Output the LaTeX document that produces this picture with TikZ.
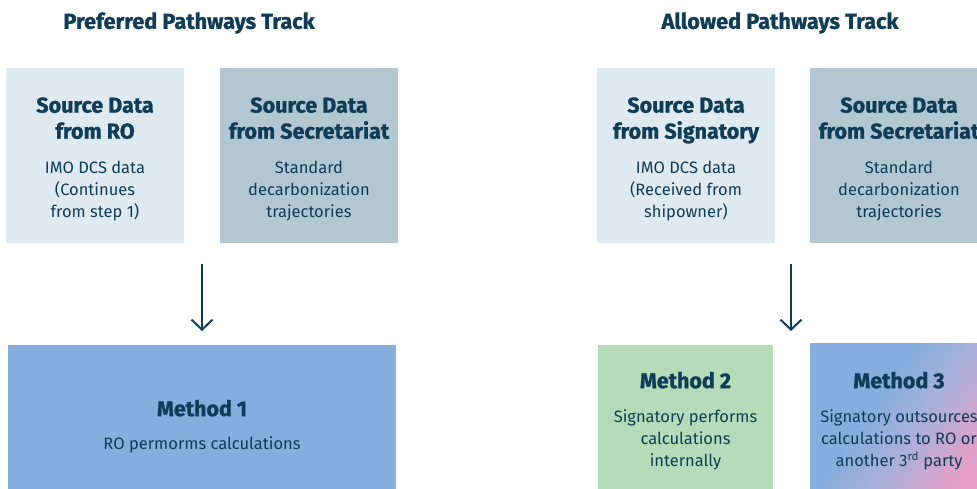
\documentclass[tikz,border=0pt]{standalone}
\usepackage{fontspec}
\setmainfont{Fira Sans}[BoldFeatures={FakeBold=1.2}]
\usetikzlibrary{arrows.meta}
\definecolor{ink}{HTML}{0F3D57}
\definecolor{srcA}{HTML}{DFE9F0}
\definecolor{srcB}{HTML}{B3C7D2}
\definecolor{mblue}{HTML}{85AEDE}
\definecolor{mgreen}{HTML}{B6DBB9}
\definecolor{mlav}{HTML}{ADAFDA}
\definecolor{mpink}{HTML}{E4A0C6}
\pgfdeclarehorizontalshading{mthree}{100bp}{color(0bp)=(mblue); color(43bp)=(mblue); color(60bp)=(mlav); color(78bp)=(mpink); color(100bp)=(mpink)}
\tikzset{
  box/.style={draw=none, inner sep=0pt, anchor=north west},
  title/.style={text=ink, font=\fontsize{21.7}{26}\selectfont\bfseries},
  head/.style={text=ink, align=center, text depth=6pt, font=\fontsize{21.5}{26}\selectfont\bfseries},
  body/.style={text=ink, align=center, font=\fontsize{16.5}{22}\selectfont},
  flow/.style={draw=ink, line width=2pt, -{Straight Barb[length=10pt,width=21pt,line width=2pt]}}
}
\begin{document}
\begin{tikzpicture}[x=1pt,y=-1pt]
\useasboundingbox (0,0) rectangle (977,488);
\clip (0,0) rectangle (977,488);
% titles
\node[title] (t1) at (189,23) {Preferred Pathways Track};
\node[title] (t2) at (780,23) {Allowed Pathways Track};
% source boxes
\node[box, fill=srcA, minimum width=178pt, minimum height=175pt] (a1) at (6,68) {};
\node[box, fill=srcB, minimum width=178pt, minimum height=175pt] (a2) at (220,68) {};
\node[box, fill=srcA, minimum width=178pt, minimum height=175pt] (b1) at (597,68) {};
\node[box, fill=srcB, minimum width=178pt, minimum height=175pt] (b2) at (810,68) {};
\node[head] (a1h) at (95,121) {Source Data\\from RO};
\node[body] (a1b) at (95,191) {IMO DCS data\\(Continues\\from step 1)};
\node[head] (a2h) at (309,121) {Source Data\\from Secretariat};
\node[body] (a2b) at (309,191) {Standard\\decarbonization\\trajectories};
\node[head] (b1h) at (686,121) {Source Data\\from Signatory};
\node[body] (b1b) at (686,191) {IMO DCS data\\(Received from\\shipowner)};
\node[head] (b2h) at (899,121) {Source Data\\from Secretariat};
\node[body] (b2b) at (899,191) {Standard\\decarbonization\\trajectories};
% method boxes
\node[box, fill=mblue, minimum width=388pt, minimum height=150pt] (m1) at (8,345) {};
\node[box, fill=mgreen, minimum width=175pt, minimum height=150pt] (m2) at (598,345) {};
\shade[shading=mthree, shading angle=-35] (810,343) rectangle (977,488);
\node[box, minimum width=178pt, minimum height=152pt] (m3) at (810,343) {};
\node[head] (m1h) at (202,411) {Method 1};
\node[body] (m1b) at (202,445) {RO permorms calculations};
\node[head] (m2h) at (685.5,383) {Method 2};
\node[body] (m2b) at (685.5,440) {Signatory performs\\calculations\\internally};
\node[head] (m3h) at (899,383) {Method 3};
\node[body] (m3b) at (899,440) {Signatory outsources\\calculations to RO or\\another 3\textsuperscript{rd} party};
% arrows
\coordinate (p1s) at (202,264);
\coordinate (p1e) at (202,331);
\coordinate (p2s) at (791,264);
\coordinate (p2e) at (791,331);
\draw[flow] (p1s) -- (p1e);
\draw[flow] (p2s) -- (p2e);
\end{tikzpicture}
\end{document}
